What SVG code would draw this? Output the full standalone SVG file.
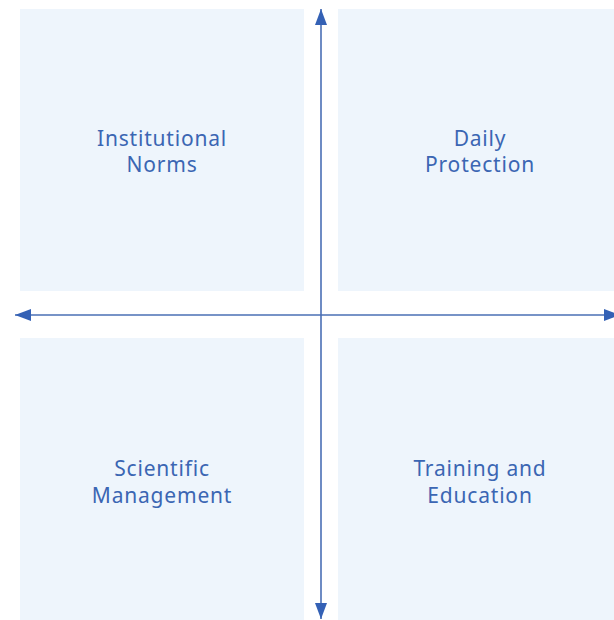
<svg xmlns="http://www.w3.org/2000/svg" width="614" height="620" viewBox="0 0 614 620">
<style>
.box{fill:#eef5fc}
.lbl{font-family:"Noto Sans","Open Sans",sans-serif;font-size:21px;letter-spacing:0.8px;fill:#3b66b3;text-anchor:middle}
.axis{stroke:#4a6fb5;stroke-width:1.6;fill:none}
</style>
<defs>
<marker id="ah" viewBox="0 0 16 12" refX="16" refY="6" markerWidth="16" markerHeight="12" markerUnits="userSpaceOnUse" orient="auto">
<path d="M0,0 L16,6 L0,12 Z" fill="#3461b5"/>
</marker>
</defs>
<g id="node-institutional">
<rect class="box" x="20" y="9" width="284" height="282"/>
<text class="lbl" x="162" y="146">Institutional</text>
<text class="lbl" x="162" y="172">Norms</text>
</g>
<g id="node-daily">
<rect class="box" x="338" y="9" width="276" height="282"/>
<text class="lbl" x="480" y="146">Daily</text>
<text class="lbl" x="480" y="172">Protection</text>
</g>
<g id="node-scientific">
<rect class="box" x="20" y="338" width="284" height="282"/>
<text class="lbl" x="162" y="476">Scientific</text>
<text class="lbl" x="162" y="503">Management</text>
</g>
<g id="node-training">
<rect class="box" x="338" y="338" width="276" height="282"/>
<text class="lbl" x="480" y="476">Training and</text>
<text class="lbl" x="480" y="503">Education</text>
</g>
<g id="connectors">
<line class="axis" x1="321" y1="315" x2="321" y2="9" marker-end="url(#ah)"/>
<line class="axis" x1="321" y1="315" x2="321" y2="619" marker-end="url(#ah)"/>
<line class="axis" x1="321" y1="315" x2="15" y2="315" marker-end="url(#ah)"/>
<line class="axis" x1="321" y1="315" x2="620" y2="315" marker-end="url(#ah)"/>
</g>
</svg>
